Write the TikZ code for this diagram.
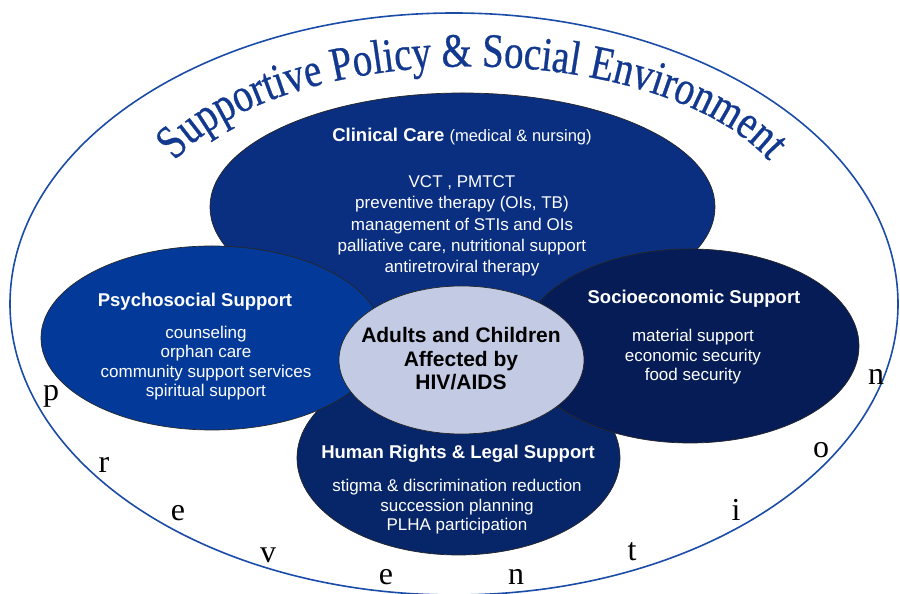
\documentclass[tikz,border=0pt]{standalone}
\usepackage{fontspec}
\usetikzlibrary{shapes.geometric,decorations.text}
\newfontfamily\arialf{Liberation Sans}
\newfontfamily\serifprev{Liberation Serif}
\newfontfamily\titlefont[FakeStretch=0.81,FakeBold=0.6]{Liberation Serif}
\definecolor{clinblue}{HTML}{0A2F80}
\definecolor{psyblue}{HTML}{033A99}
\definecolor{socblue}{HTML}{061C56}
\definecolor{humblue}{HTML}{07266A}
\definecolor{centblue}{HTML}{C3CBE4}
\definecolor{outerblue}{HTML}{1A4CA8}
\definecolor{titleblue}{HTML}{12398F}
\tikzset{
  blob/.style={ellipse, draw=black!85, line width=0.7pt, inner sep=0pt},
  headtxt/.style={text=white, align=center, font=\arialf\bfseries\fontsize{18.5}{22}\selectfont},
  bodytxt/.style={text=white, align=center, font=\arialf\fontsize{17}{19.5}\selectfont},
  clinbody/.style={bodytxt, font=\arialf\fontsize{17}{21.2}\selectfont},
  centtxt/.style={text=black, align=center, font=\arialf\bfseries\fontsize{21}{23.5}\selectfont},
  prevletter/.style={text=black, inner sep=0pt, font=\serifprev\fontsize{32}{34}\selectfont}
}
\begin{document}
\begin{tikzpicture}[x=1pt,y=1pt]
\useasboundingbox (0,0) rectangle (900,594);
\fill[white] (0,0) rectangle (900,594);
% outer ellipse
\node[ellipse, draw=outerblue, line width=1.6pt, minimum width=888pt, minimum height=582pt, inner sep=0pt] (outer) at (454,290) {};
% title along arc
\path[decorate, decoration={text along path, text align=center, text color=titleblue,
  text={|\titlefont\fontsize{48}{52}\selectfont|Supportive Policy {\&} Social Environment}}]
  (160.9,413.3) arc[start angle=165, end angle=15, x radius=322, y radius=154];
% ellipses
\node[blob, fill=clinblue, minimum width=505pt, minimum height=228pt] (clin) at (462.5,387) {};
\node[blob, fill=humblue, minimum width=323pt, minimum height=194pt] (hum) at (458.5,136) {};
\node[blob, fill=psyblue, minimum width=342pt, minimum height=184pt] (psy) at (212,256) {};
\node[blob, fill=socblue, minimum width=338pt, minimum height=194pt] (soc) at (690,248) {};
\node[blob, fill=centblue, minimum width=245pt, minimum height=148pt] (cent) at (461.5,234) {};
% texts
\node[headtxt] (clinhead) at (462,457) {Clinical Care {\mdseries\fontsize{16.5}{20}\selectfont (medical \& nursing)}};
\node[clinbody] (clinbody) at (462,368) {VCT , PMTCT\\preventive therapy (OIs, TB)\\management of STIs and OIs\\palliative care, nutritional support\\antiretroviral therapy};
\node[headtxt] (psyhead) at (195,292) {Psychosocial Support};
\node[bodytxt] (psybody) at (206,231) {counseling\\orphan care\\community support services\\spiritual support};
\node[headtxt] (sochead) at (694,295) {Socioeconomic Support};
\node[bodytxt] (socbody) at (693,237) {material support\\economic security\\food security};
\node[headtxt] (humhead) at (458,140) {Human Rights \& Legal Support};
\node[bodytxt] (humbody) at (457,87) {stigma \& discrimination reduction\\succession planning\\PLHA participation};
\node[centtxt] (centtext) at (461,235) {Adults and Children\\Affected by\\HIV/AIDS};
% prevention letters
\node[prevletter] (p1) at (51,198) {p};
\node[prevletter] (p2) at (104,129) {r};
\node[prevletter] (p3) at (178,81) {e};
\node[prevletter] (p4) at (268,39) {v};
\node[prevletter] (p5) at (386,17) {e};
\node[prevletter] (p6) at (516,17) {n};
\node[prevletter] (p7) at (632,42) {t};
\node[prevletter] (p8) at (736,84) {i};
\node[prevletter] (p9) at (821,144) {o};
\node[prevletter] (p10) at (876,217) {n};
\end{tikzpicture}
\end{document}
